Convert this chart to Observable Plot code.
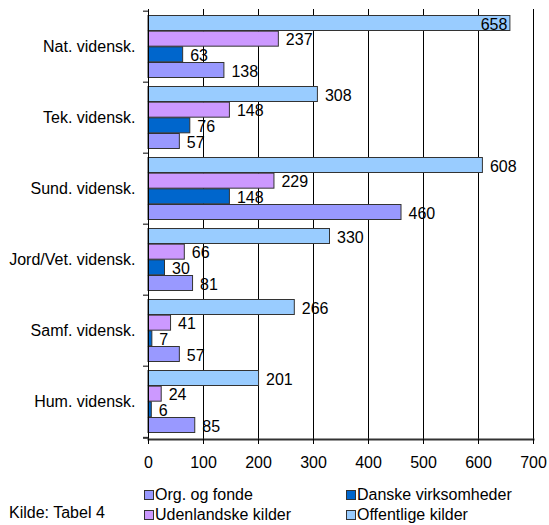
<!DOCTYPE html>
<html>
<head>
<meta charset="utf-8">
<script src="https://cdn.jsdelivr.net/npm/d3@7"></script>
<script src="https://cdn.jsdelivr.net/npm/@observablehq/plot@0.6"></script>
<style>
  html, body { margin: 0; padding: 0; background: #fff; }
  body { font-family: Arial, "Liberation Sans", sans-serif; }
  #wrap { position: relative; width: 549px; height: 525px; overflow: hidden; }
  #chart svg { display: block; }
  .leg { position: absolute; font-size: 16px; line-height: 18px; color: #000; white-space: nowrap; }
  .sw { position: absolute; width: 8px; height: 8px; border: 1px solid #333; }
</style>
</head>
<body>
<div id="wrap"><div id="chart"></div></div>
<script>
// ---- data ----
const categories = ["Nat. vidensk.", "Tek. vidensk.", "Sund. vidensk.", "Jord/Vet. vidensk.", "Samf. vidensk.", "Hum. vidensk."];
const seriesNames = ["Offentlige kilder", "Udenlandske kilder", "Danske virksomheder", "Org. og fonde"]; // top to bottom within a group
const offentligeKilder = [658, 308, 608, 330, 266, 201];
const udenlandskeKilder = [237, 148, 229, 66, 41, 24];
const danskeVirksomheder = [63, 76, 148, 30, 7, 6];
const orgOgFonde = [138, 57, 460, 81, 57, 85];
const xTicks = [0, 100, 200, 300, 400, 500, 600, 700];
const legendOrder = ["Org. og fonde", "Danske virksomheder", "Udenlandske kilder", "Offentlige kilder"];
const sourceNote = "Kilde: Tabel 4";

// ---- styles ----
const colors = {
  "Offentlige kilder": "#99CCFF",
  "Udenlandske kilder": "#CC99FF",
  "Danske virksomheder": "#0066CC",
  "Org. og fonde": "#9999FF"
};
const seriesValues = [offentligeKilder, udenlandskeKilder, danskeVirksomheder, orgOgFonde];

const W = 549, H = 478, mt = 9, mb = 39, ml = 148, mr = 16;
const bandH = (H - mt - mb) / categories.length;
const groupPad = 4.5;
const barH = (bandH - 2 * groupPad) / seriesNames.length;
const font = "Arial, 'Liberation Sans', sans-serif";

const rows = [];
seriesNames.forEach((s, i) => categories.forEach((c, j) => rows.push({series: s, idx: i, category: c, value: seriesValues[i][j]})));

const barMarks = [];
const labelMarks = [];
seriesNames.forEach((s, i) => {
  const data = rows.filter(d => d.series === s);
  const insetTop = groupPad + i * barH;
  const insetBottom = bandH - insetTop - barH;
  barMarks.push(Plot.barX(data, {
    x: "value", y: "category", fill: colors[s], stroke: "#333", strokeWidth: 1,
    insetTop, insetBottom
  }));
  const dy = insetTop + barH / 2 - bandH / 2 + 1;
  labelMarks.push(Plot.text(data.filter(d => d.value <= 640), {
    x: "value", y: "category", text: d => String(d.value), dx: 7, dy,
    textAnchor: "start", fontSize: 16, fill: "#000"
  }));
  labelMarks.push(Plot.text(data.filter(d => d.value > 640), {
    x: "value", y: "category", text: d => String(d.value), dx: -3, dy,
    textAnchor: "end", fontSize: 16, fill: "#000"
  }));
});

const chart = Plot.plot({
  width: W, height: H,
  marginTop: mt, marginBottom: mb, marginLeft: ml, marginRight: mr,
  style: {fontFamily: font, fontSize: "16px", background: "#fff", color: "#000", overflow: "visible"},
  x: {domain: [0, 700], axis: null, label: null},
  y: {domain: categories, padding: 0, axis: null, label: null},
  marks: [
    Plot.gridX(xTicks, {stroke: "#000", strokeOpacity: 1, strokeWidth: 1}),
    ...barMarks,
    ...labelMarks,
    Plot.frame({anchor: "left", stroke: "#000"}),
    Plot.frame({anchor: "bottom", stroke: "#333", strokeWidth: 2}),
    Plot.axisY({tickSize: 5, tickFormat: () => "", dy: -bandH / 2, stroke: "#000", label: null}),
    Plot.axisY([categories[categories.length - 1]], {tickSize: 5, tickFormat: () => "", dy: bandH / 2, stroke: "#333", strokeWidth: 2, label: null}),
    Plot.axisY({tickSize: 0, tickPadding: 13, fontSize: 16, label: null}),
    Plot.axisX(xTicks, {tickSize: 5, tickPadding: 12, fontSize: 16, stroke: "#000", label: null})
  ]
});
document.getElementById("chart").appendChild(chart);

// ---- legend & source (below the svg) ----
const wrap = document.getElementById("wrap");
const legendPos = [
  {sx: 144, tx: 155, y: 486},
  {sx: 346, tx: 357, y: 486},
  {sx: 144, tx: 155, y: 506},
  {sx: 346, tx: 357, y: 506}
];
legendOrder.forEach((name, i) => {
  const p = legendPos[i];
  const sw = document.createElement("div");
  sw.className = "sw";
  sw.style.left = p.sx + "px";
  sw.style.top = (p.y + 4) + "px";
  sw.style.background = colors[name];
  wrap.appendChild(sw);
  const t = document.createElement("div");
  t.className = "leg";
  t.style.left = p.tx + "px";
  t.style.top = p.y + "px";
  t.textContent = name;
  wrap.appendChild(t);
});
const src = document.createElement("div");
src.className = "leg";
src.style.left = "9px";
src.style.top = "504px";
src.textContent = sourceNote;
wrap.appendChild(src);
</script>
</body>
</html>
